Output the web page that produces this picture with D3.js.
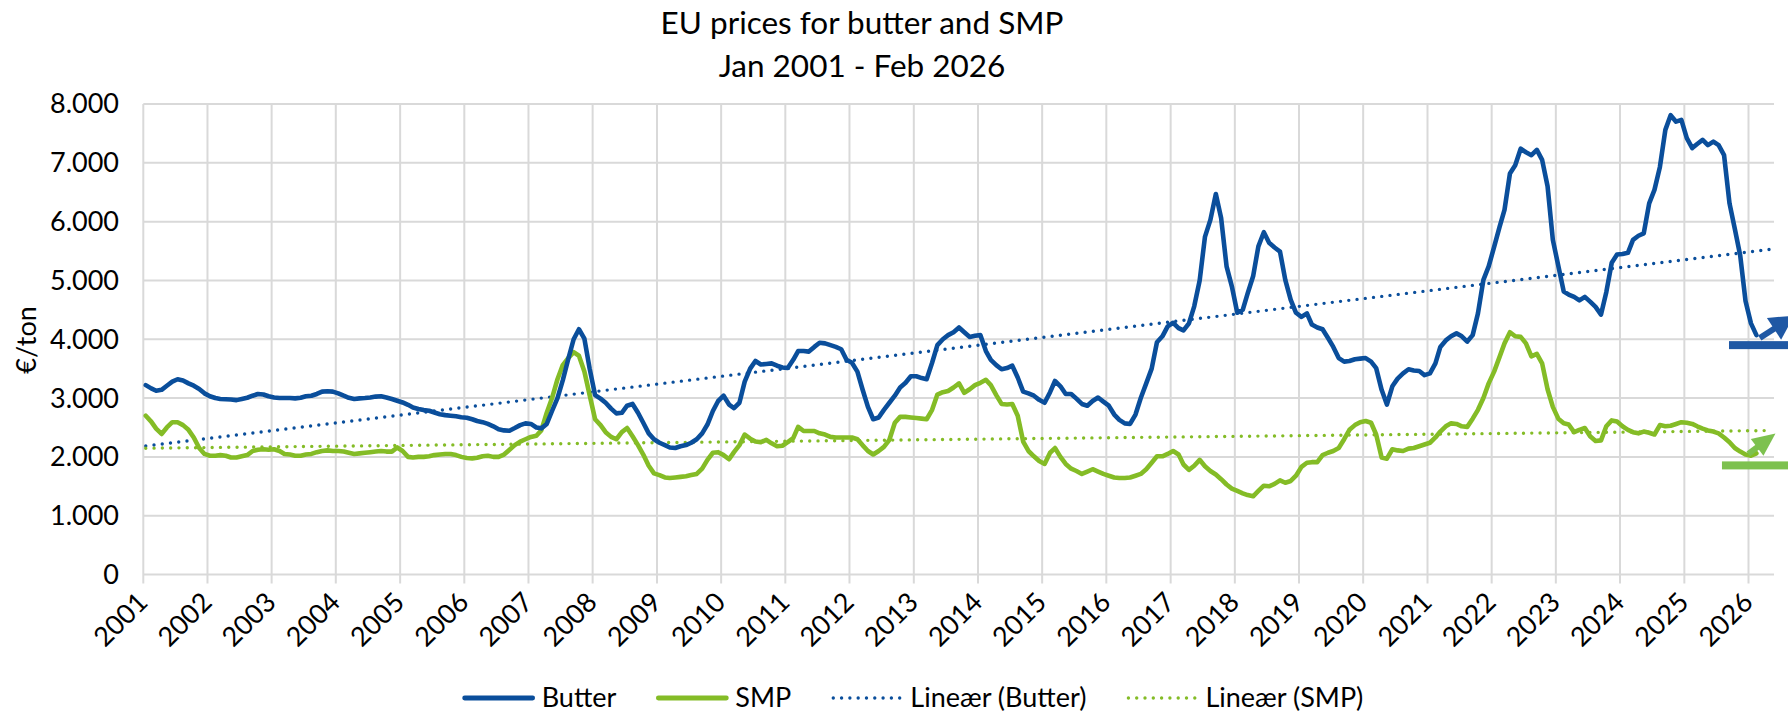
<!DOCTYPE html>
<html>
<head>
<meta charset="utf-8">
<script src="https://cdn.jsdelivr.net/npm/d3@7/dist/d3.min.js"></script>
<style>
  html, body { margin: 0; padding: 0; background: #ffffff; }
  svg { display: block; font-family: Lato, "Open Sans", sans-serif; }
</style>
</head>
<body>
<svg id="chart" width="1788" height="714"></svg>
<script>
// ---------------- DATA ----------------
const titleLines = ["EU prices for butter and SMP", "Jan 2001 - Feb 2026"];
const yAxisTitle = "€/ton";
const seriesNames = ["Butter", "SMP", "Lineær (Butter)", "Lineær (SMP)"];
const startYear = 2001, startMonth = 0;           // Jan 2001, monthly data
const yTicks = [0, 1000, 2000, 3000, 4000, 5000, 6000, 7000, 8000];
const xTickYears = d3.range(2001, 2027);           // 2001 ... 2026

// Butter, €/ton, monthly Jan 2001 - Feb 2026
const butter = [
  3220,3165,3125,3140,3210,3280,3320,3300,3250,3210,3155,3080, // 2001
  3030,3000,2985,2980,2975,2965,2985,3005,3040,3070,3060,3030, // 2002
  3010,3000,3000,3000,2995,3005,3030,3040,3070,3110,3115,3110, // 2003
  3080,3040,3005,2985,2995,3000,3010,3025,3030,3010,2985,2955, // 2004
  2925,2885,2840,2815,2795,2785,2755,2725,2710,2700,2690,2675, // 2005
  2665,2640,2610,2590,2560,2520,2470,2450,2445,2490,2540,2570, // 2006
  2560,2500,2485,2560,2780,3000,3300,3660,4000,4170,4010,3500, // 2007
  3050,2990,2920,2820,2740,2750,2870,2900,2750,2580,2400,2300, // 2008
  2240,2200,2160,2150,2180,2200,2240,2300,2400,2550,2780,2950, // 2009
  3040,2890,2830,2920,3280,3500,3630,3570,3580,3590,3550,3520, // 2010
  3510,3650,3800,3800,3790,3870,3940,3930,3900,3870,3830,3650, // 2011
  3600,3450,3150,2850,2640,2670,2800,2920,3040,3180,3260,3370, // 2012
  3370,3340,3320,3600,3900,4000,4070,4120,4200,4120,4040,4060, // 2013
  4070,3800,3650,3560,3490,3510,3550,3350,3110,3080,3040,2970, // 2014
  2920,3100,3290,3200,3070,3070,2990,2900,2870,2950,3010,2940, // 2015
  2870,2720,2630,2570,2560,2720,3000,3250,3500,3950,4050,4220, // 2016
  4280,4190,4150,4270,4560,5000,5740,6030,6470,6060,5240,4900, // 2017
  4450,4500,4780,5070,5580,5820,5640,5560,5490,5010,4670,4450, // 2018
  4380,4440,4250,4200,4170,4020,3870,3680,3620,3630,3660,3670, // 2019
  3680,3620,3510,3140,2890,3200,3330,3420,3490,3470,3460,3390, // 2020
  3420,3590,3870,3980,4050,4100,4050,3960,4070,4440,5010,5240, // 2021
  5570,5910,6200,6820,6960,7240,7180,7130,7220,7050,6600,5690, // 2022
  5250,4810,4760,4720,4660,4720,4640,4550,4420,4800,5300,5440, // 2023
  5450,5470,5690,5760,5800,6310,6540,6930,7560,7810,7700,7730, // 2024
  7420,7250,7320,7390,7300,7360,7300,7130,6310,5880,5420,4650, // 2025
  4270,4070                                                    // 2026
];

// SMP (skimmed milk powder), €/ton, monthly Jan 2001 - Feb 2026
const smp = [
  2700,2600,2480,2390,2500,2590,2590,2540,2460,2330,2150,2050, // 2001
  2020,2020,2030,2020,1990,1990,2010,2030,2100,2120,2130,2120, // 2002
  2130,2100,2050,2040,2020,2020,2040,2050,2080,2100,2110,2100, // 2003
  2100,2090,2070,2050,2060,2070,2080,2090,2100,2090,2090,2160, // 2004
  2100,2000,1990,2000,2000,2010,2030,2040,2050,2050,2030,2000, // 2005
  1980,1975,1985,2010,2020,2000,2000,2040,2120,2200,2260,2300, // 2006
  2340,2360,2450,2750,3000,3320,3560,3680,3780,3720,3450,3050, // 2007
  2640,2540,2420,2340,2300,2420,2490,2350,2200,2040,1850,1720, // 2008
  1690,1650,1640,1650,1660,1670,1690,1710,1800,1950,2070,2080, // 2009
  2030,1960,2080,2200,2380,2310,2260,2250,2290,2230,2180,2190, // 2010
  2250,2320,2510,2440,2440,2440,2400,2380,2340,2330,2330,2330, // 2011
  2330,2300,2200,2100,2040,2100,2170,2290,2580,2680,2680,2670, // 2012
  2660,2650,2640,2800,3060,3100,3120,3180,3250,3090,3150,3220, // 2013
  3260,3310,3220,3050,2900,2890,2900,2700,2260,2100,2010,1930, // 2014
  1880,2070,2150,2000,1880,1800,1760,1710,1750,1790,1750,1710, // 2015
  1680,1650,1640,1640,1650,1680,1710,1790,1900,2010,2010,2050, // 2016
  2100,2040,1870,1780,1850,1950,1840,1760,1700,1620,1530,1460, // 2017
  1420,1380,1350,1330,1420,1510,1500,1540,1600,1560,1590,1680, // 2018
  1830,1900,1910,1910,2030,2070,2100,2150,2300,2460,2540,2590, // 2019
  2610,2580,2380,1990,1970,2130,2110,2100,2140,2150,2180,2210, // 2020
  2240,2330,2430,2520,2570,2560,2520,2510,2650,2800,3000,3250, // 2021
  3450,3700,3930,4120,4050,4040,3930,3710,3750,3590,3150,2850, // 2022
  2650,2570,2550,2420,2460,2490,2350,2270,2280,2520,2620,2600, // 2023
  2520,2460,2420,2400,2430,2410,2380,2540,2520,2530,2560,2590, // 2024
  2580,2560,2520,2480,2450,2430,2400,2330,2250,2150,2090,2040, // 2025
  2020,2060                                                    // 2026
];

// Annotation arrows at the right edge (level bar + rising arrow)
const noteSeries    = ["Butter", "SMP"];
const noteBarValue  = [3900, 1855];
const noteBarFrom   = ["2025-09-12", "2025-08-03"];
const noteArrowFrom = [["2026-03-06", 4020], ["2025-12-31", 2050]];

// ---------------- LAYOUT / STYLE ----------------
const W = 1788, H = 714;
const plot = { left: 143.3, right: 1774, top: 104, bottom: 574.5 };
const C = {
  butter: "#0a4e9b", smp: "#84bc26",
  butterNote: "#1f58a4", smpNote: "#7dc14f",
  grid: "#d9d9d9", text: "#000000"
};
const FS = 27;

const svg = d3.select("#chart");

const months = butter.map((_, i) => new Date(startYear, startMonth + i, 15));
const trendEnd = new Date(startYear, startMonth + butter.length + 2, 15);

const x = d3.scaleTime()
  .domain([new Date(2001, 0, 1), new Date(2026, 4, 26)])
  .range([plot.left, plot.right]);
const y = d3.scaleLinear().domain([0, 8000]).range([plot.bottom, plot.top]);

const loc = d3.formatLocale({ decimal: ",", thousands: ".", grouping: [3], currency: ["€", ""] });
const fmt = loc.format(",");

// ---- gridlines ----
const g = svg.append("g");
g.selectAll("line.hgrid").data(yTicks).join("line")
  .attr("x1", plot.left).attr("x2", plot.right)
  .attr("y1", d => y(d)).attr("y2", d => y(d))
  .attr("stroke", C.grid).attr("stroke-width", 2);

g.selectAll("line.vgrid").data(xTickYears).join("line")
  .attr("x1", d => x(new Date(d, 0, 1))).attr("x2", d => x(new Date(d, 0, 1)))
  .attr("y1", plot.top).attr("y2", plot.bottom + 9)
  .attr("stroke", C.grid).attr("stroke-width", 2);

// ---- y axis labels ----
svg.append("g").selectAll("text").data(yTicks).join("text")
  .attr("x", 119).attr("y", d => y(d))
  .attr("dy", "0.35em")
  .attr("text-anchor", "end")
  .attr("font-size", FS).attr("fill", C.text)
  .text(d => fmt(d));

// y title
svg.append("text")
  .attr("transform", "translate(36,340) rotate(-90)")
  .attr("text-anchor", "middle")
  .attr("font-size", FS).attr("fill", C.text)
  .text(yAxisTitle);

// ---- x axis labels ----
svg.append("g").selectAll("text").data(xTickYears).join("text")
  .attr("transform", d => `translate(${x(new Date(d, 0, 1)) + 6},${604}) rotate(-45)`)
  .attr("text-anchor", "end")
  .attr("font-size", FS).attr("fill", C.text)
  .text(d => d);

// ---- title ----
svg.append("g").selectAll("text").data(titleLines).join("text")
  .attr("x", 862).attr("y", (d, i) => 34 + i * 43)
  .attr("text-anchor", "middle")
  .attr("font-size", 31.5).attr("fill", C.text)
  .text(d => d);

// ---- trend lines (least squares on date) ----
function trend(vals) {
  const xs = months.map(d => +d);
  const n = vals.length;
  const mx = d3.mean(xs), my = d3.mean(vals);
  let sxy = 0, sxx = 0;
  for (let i = 0; i < n; i++) { sxy += (xs[i] - mx) * (vals[i] - my); sxx += (xs[i] - mx) ** 2; }
  const b = sxy / sxx, a = my - b * mx;
  return [months[0], trendEnd].map(d => ({ date: d, v: a + b * (+d) }));
}
const lineT = d3.line().x(d => x(d.date)).y(d => y(d.v));
[[butter, C.butter], [smp, C.smp]].forEach(([vals, col]) => {
  svg.append("path").datum(trend(vals))
    .attr("d", lineT).attr("fill", "none")
    .attr("stroke", col).attr("stroke-width", 3.4)
    .attr("stroke-linecap", "round").attr("stroke-dasharray", "0 8.3");
});

// ---- data lines ----
const line = d3.line().x((d, i) => x(months[i])).y(d => y(d)).curve(d3.curveLinear);
[[smp, C.smp], [butter, C.butter]].forEach(([vals, col]) => {
  svg.append("path").datum(vals)
    .attr("d", line).attr("fill", "none")
    .attr("stroke", col).attr("stroke-width", 4.6)
    .attr("stroke-linejoin", "round").attr("stroke-linecap", "round");
});

// ---- annotation bars & arrows ----
const noteColors = [C.butterNote, C.smpNote];
const arrowGeom = [ // angle (deg), shaft length, head length, head width, shaft width
  { ang: -33, shaft: 17, head: 24, hw: 26, sw: 6 },
  { ang: -37, shaft: 11, head: 23, hw: 21, sw: 6 }
];
noteSeries.forEach((s, i) => {
  const by = y(noteBarValue[i]);
  svg.append("rect")
    .attr("x", x(new Date(noteBarFrom[i]))).attr("y", by - 4)
    .attr("width", W - x(new Date(noteBarFrom[i]))).attr("height", 8)
    .attr("fill", noteColors[i]);
  const sx = x(new Date(noteArrowFrom[i][0])), sy = y(noteArrowFrom[i][1]);
  const gm = arrowGeom[i];
  const a = gm.ang * Math.PI / 180, ux = Math.cos(a), uy = Math.sin(a);
  const px = -uy, py = ux;
  const bx = sx + ux * gm.shaft, byy = sy + uy * gm.shaft;
  svg.append("line").attr("x1", sx).attr("y1", sy).attr("x2", bx + ux * 2).attr("y2", byy + uy * 2)
    .attr("stroke", noteColors[i]).attr("stroke-width", gm.sw);
  const tip = [bx + ux * gm.head, byy + uy * gm.head];
  svg.append("polygon")
    .attr("points", [[bx + px * gm.hw / 2, byy + py * gm.hw / 2], tip, [bx - px * gm.hw / 2, byy - py * gm.hw / 2]].map(p => p.join(",")).join(" "))
    .attr("fill", noteColors[i]);
});

// ---- legend ----
const legendItems = [
  { name: seriesNames[0], col: C.butter, dotted: false },
  { name: seriesNames[1], col: C.smp, dotted: false },
  { name: seriesNames[2], col: C.butter, dotted: true },
  { name: seriesNames[3], col: C.smp, dotted: true }
];
const lg = svg.append("g");
let cx = 0;
const ly = 698;
legendItems.forEach(it => {
  const item = lg.append("g").attr("transform", `translate(${cx},0)`);
  item.append("line").attr("x1", 2).attr("x2", 70).attr("y1", ly).attr("y2", ly)
    .attr("stroke", it.col)
    .attr("stroke-width", it.dotted ? 3.4 : 4.8)
    .attr("stroke-linecap", "round")
    .attr("stroke-dasharray", it.dotted ? "0 8.3" : null);
  const t = item.append("text").attr("x", 79).attr("y", ly).attr("dy", "0.35em")
    .attr("font-size", FS).attr("fill", C.text).text(it.name);
  cx += 79 + t.node().getComputedTextLength() + 40;
});
const lgW = cx - 40;
lg.attr("transform", `translate(${913 - lgW / 2},0)`);
</script>
</body>
</html>
